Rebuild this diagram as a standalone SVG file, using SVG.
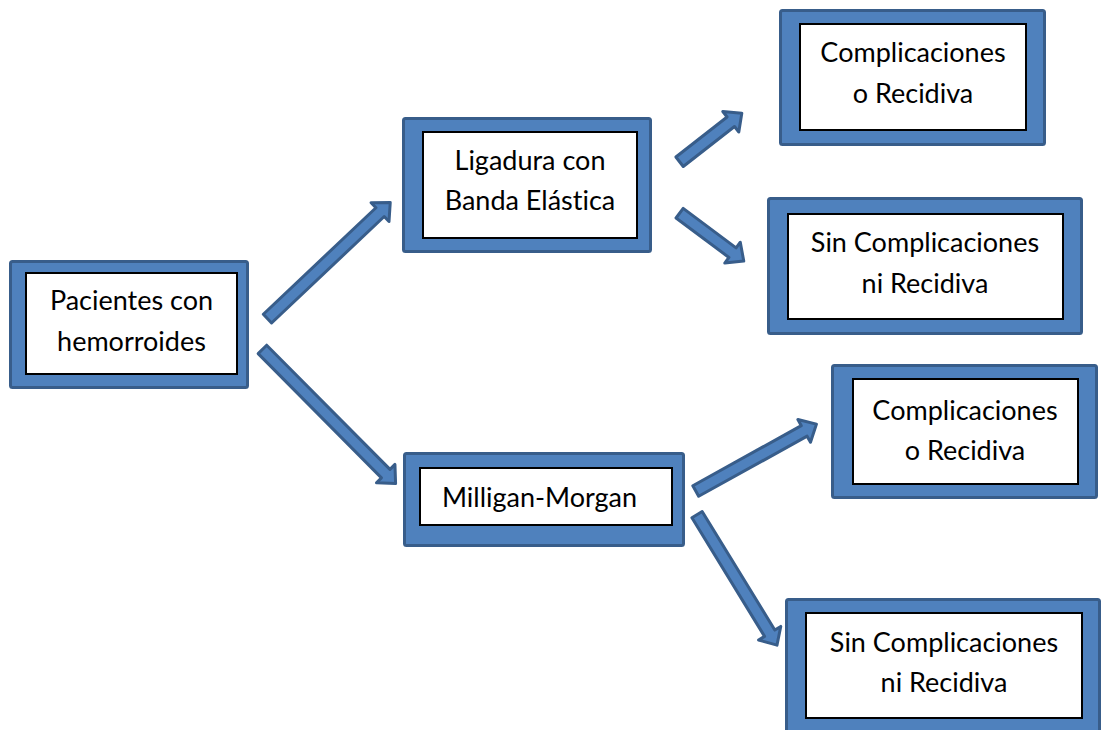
<svg xmlns="http://www.w3.org/2000/svg" width="1102" height="730" viewBox="0 0 1102 730">
<defs>
<style>
.frame{fill:#4F81BD;stroke:#385D8A;stroke-width:3;}
.inner{fill:#FFFFFF;stroke:#000000;stroke-width:2;}
.arrow{fill:#4F81BD;stroke:#385D8A;stroke-width:3;stroke-linejoin:round;}
text{font-family:Lato,"Open Sans","Liberation Sans",sans-serif;font-size:27px;fill:#000000;text-anchor:middle;font-variant-ligatures:none;}
</style>
</defs>
<rect width="1102" height="730" fill="#FFFFFF"/>
<g id="connectors">
<path class="arrow" transform="translate(266,320) rotate(-43.4)" d="M2,-6 L157,-6 L157,-13 L171,0 L157,13 L157,6 L2,6 Z"/>
<path class="arrow" transform="translate(261,348) rotate(45.2)" d="M2,-6 L177,-6 L177,-13 L191,0 L177,13 L177,6 L2,6 Z"/>
<path class="arrow" transform="translate(678,163) rotate(-38)" d="M2,-6 L67,-6 L67,-13 L81,0 L67,13 L67,6 L2,6 Z"/>
<path class="arrow" transform="translate(678,212) rotate(36.7)" d="M2,-6 L68,-6 L68,-13 L82,0 L68,13 L68,6 L2,6 Z"/>
<path class="arrow" transform="translate(694,492) rotate(-29)" d="M2,-6 L126,-6 L126,-13 L140,0 L126,13 L126,6 L2,6 Z"/>
<path class="arrow" transform="translate(696,513) rotate(58.5)" d="M2,-6 L141,-6 L141,-13 L155,0 L141,13 L141,6 L2,6 Z"/>
</g>
<g id="pacientes">
<rect class="frame" x="10.5" y="261.5" width="237" height="126" rx="2"/>
<rect class="inner" x="26" y="273" width="211" height="101"/>
<text x="131.5" y="310">Pacientes con</text>
<text x="131.5" y="351">hemorroides</text>
</g>
<g id="ligadura">
<rect class="frame" x="403.5" y="118.5" width="247" height="133" rx="2"/>
<rect class="inner" x="423" y="132" width="214" height="106"/>
<text x="530" y="170">Ligadura con</text>
<text x="530" y="210">Banda Elástica</text>
</g>
<g id="comp1">
<rect class="frame" x="780.5" y="10.5" width="264" height="134" rx="2"/>
<rect class="inner" x="800" y="24" width="226" height="106"/>
<text x="913" y="62">Complicaciones</text>
<text x="913" y="103">o Recidiva</text>
</g>
<g id="sincomp1">
<rect class="frame" x="768.5" y="198.5" width="313" height="135" rx="2"/>
<rect class="inner" x="788" y="214" width="275" height="105"/>
<text x="925" y="252">Sin Complicaciones</text>
<text x="925" y="293">ni Recidiva</text>
</g>
<g id="milligan">
<rect class="frame" x="404.5" y="453.5" width="279" height="92" rx="2"/>
<rect class="inner" x="420" y="468" width="252" height="57"/>
<text x="539.5" y="507">Milligan-Morgan</text>
</g>
<g id="comp2">
<rect class="frame" x="832.5" y="365.5" width="264" height="132" rx="2"/>
<rect class="inner" x="853" y="379" width="225" height="105"/>
<text x="965" y="420">Complicaciones</text>
<text x="965" y="460">o Recidiva</text>
</g>
<g id="sincomp2">
<rect class="frame" x="786.5" y="599.5" width="313" height="150" rx="2"/>
<rect class="inner" x="806" y="613" width="276" height="105"/>
<text x="944" y="652">Sin Complicaciones</text>
<text x="944" y="692">ni Recidiva</text>
</g>
</svg>
